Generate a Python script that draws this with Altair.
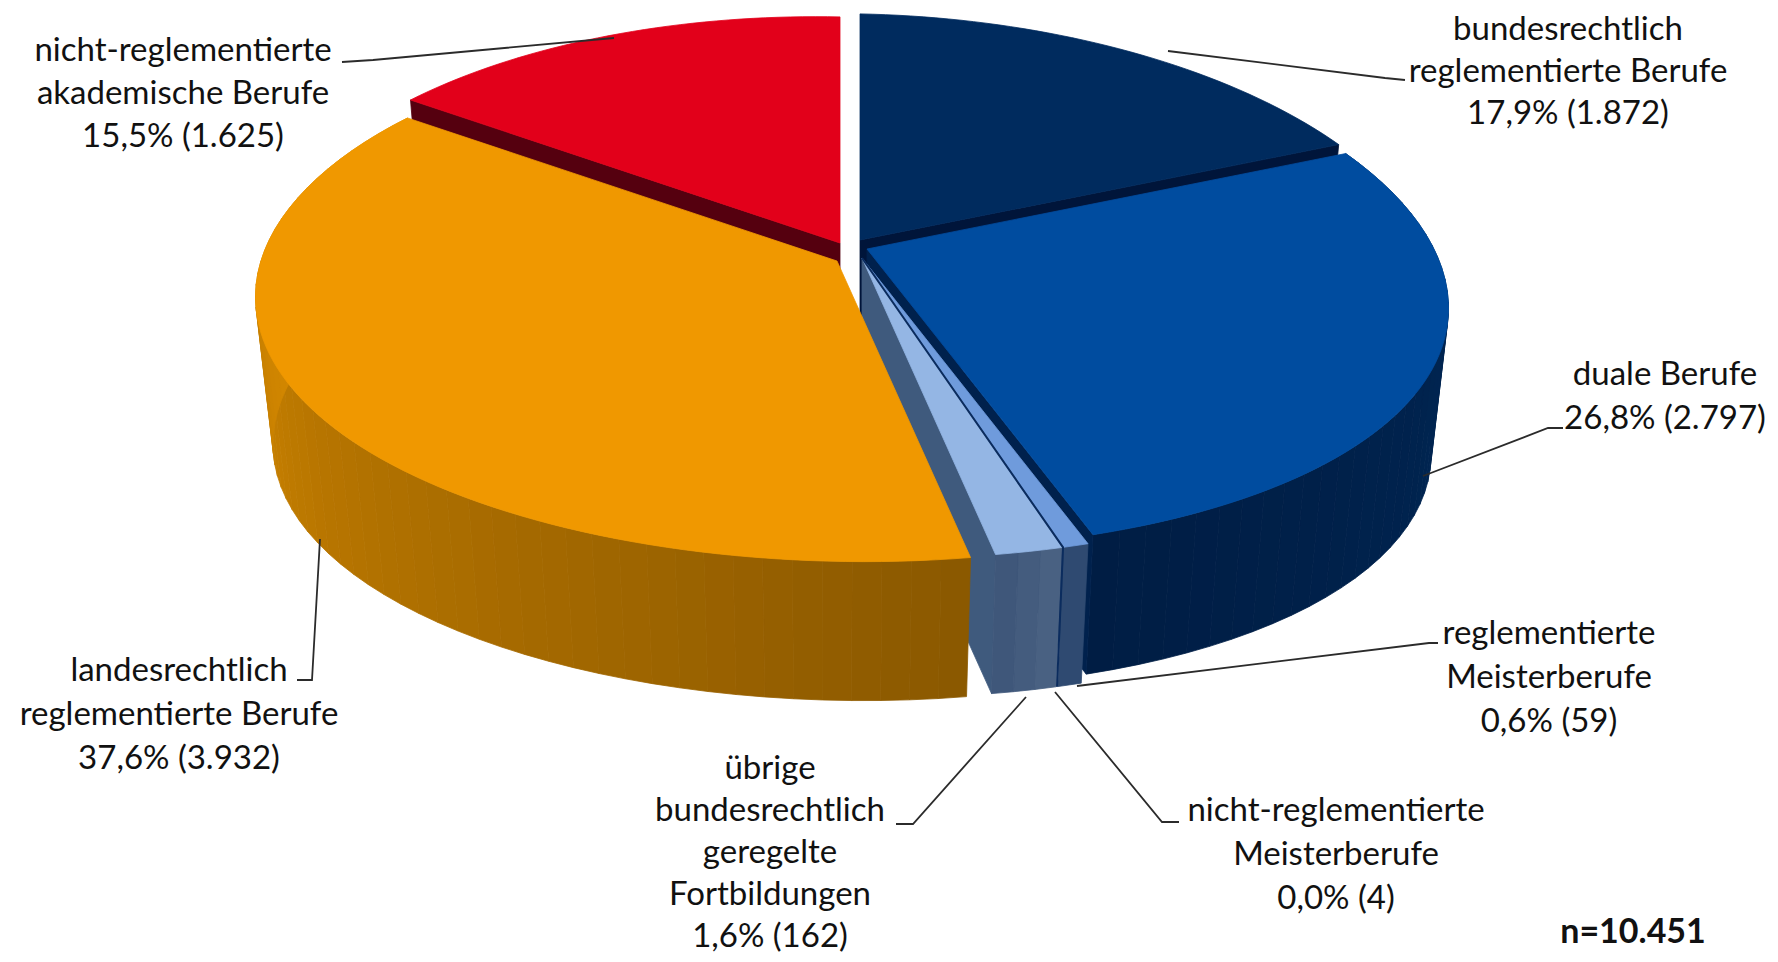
import math
import altair as alt
import pandas as pd

# ---- values ----
categories = ["bundesrechtlich reglementierte Berufe", "duale Berufe", "reglementierte Meisterberufe",
              "nicht-reglementierte Meisterberufe", "übrige bundesrechtlich geregelte Fortbildungen",
              "landesrechtlich reglementierte Berufe", "nicht-reglementierte akademische Berufe"]
shares = [17.9, 26.8, 0.6, 0.04, 1.6, 37.6, 15.5]
label_lines = [
    ["bundesrechtlich", "reglementierte Berufe", "17,9% (1.872)"],
    ["duale Berufe", "26,8% (2.797)"],
    ["reglementierte", "Meisterberufe", "0,6% (59)"],
    ["nicht-reglementierte", "Meisterberufe", "0,0% (4)"],
    ["übrige", "bundesrechtlich", "geregelte", "Fortbildungen", "1,6% (162)"],
    ["landesrechtlich", "reglementierte Berufe", "37,6% (3.932)"],
    ["nicht-reglementierte", "akademische Berufe", "15,5% (1.625)"],
]
note = "n=10.451"

# ---- layout and style, separate from the values ----
W, H = 1778, 962
AX, KX = 572.0, 0.18               # horizontal radius and perspective
BY, KY = 258.0, 0.141              # vertical radius and perspective
SKEW = 0.02                        # slight tilt of the pie
DEPTH, BASE = 148.0, 0.97          # wall height and lower-rim scale
apex = [(860, 240), (867, 249), (862, 258), (862, 258), (862, 258), (837, 261), (840, 243)]
top_col = ["#002b5e", "#004c9f", "#6f9bdc", "#0b2c5e", "#94b6e4", "#f09800", "#e2001a"]
wall_from = ["#00204a", "#002a5a", "#34507a", "#0b2c5e", "#4c6484", "#8a5800", "#7a0010"]
wall_to = ["#00204a", "#001d44", "#2a4468", "#0b2c5e", "#3c5478", "#e89500", "#7a0010"]
face_col = ["#00153a", "#00214d", "#1e3a63", "#0b2c5e", "#3f5a7d", "#8a5800", "#55000f"]
label_x = [1568, 1665, 1549, 1336, 770, 179, 183]
label_y = [30, 375, 634, 811, 769, 671, 51]
line_gap = [42, 44, 44, 44, 42, 44, 43]
leaders = [
    [(1168, 51), (1385, 78), (1405, 80)],
    [(1423, 476), (1548, 428), (1563, 428)],
    [(1077, 686), (1429, 643), (1438, 643)],
    [(1055, 692), (1162, 822), (1179, 822)],
    [(1026, 697), (913, 824), (896, 824)],
    [(320, 539), (312, 680), (297, 680)],
    [(614, 38), (373, 60), (342, 62)],
]

total = sum(shares)
edges = [0.0]
for s in shares:
    edges.append(edges[-1] + s / total * 360.0)


def top(i, t):
    r = math.radians(t)
    dx = AX * math.sin(r) / (1 + KX * math.cos(r))
    dy = -BY * math.cos(r) / (1 + KY * math.cos(r)) + SKEW * dx
    return apex[i][0] + dx, apex[i][1] + dy


def bottom(i, t):
    x, y = top(i, t)
    return apex[i][0] + BASE * (x - apex[i][0]), apex[i][1] + BASE * (y - apex[i][1]) + DEPTH


def mix(c1, c2, f):
    a = [int(c1[k:k + 2], 16) for k in (1, 3, 5)]
    b = [int(c2[k:k + 2], 16) for k in (1, 3, 5)]
    return "#%02x%02x%02x" % tuple(round(p + (q - p) * f) for p, q in zip(a, b))


rows = []
seq = [0, 0]


def poly(points, colour):
    seq[0] += 1
    for p in points:
        seq[1] += 1
        rows.append({"pid": seq[0], "seq": seq[1], "x": p[0], "y": p[1], "col": colour})


def arc_steps(a, b, step):
    n = max(1, int(math.ceil((b - a) / step)))
    return [a + (b - a) * k / n for k in range(n + 1)]


def top_face(i):
    a, b = edges[i], edges[i + 1]
    poly([apex[i]] + [top(i, t) for t in arc_steps(a, b, 1.5)], top_col[i])


def walls(i):
    ts = arc_steps(edges[i], edges[i + 1], 2.5)
    for k in range(len(ts) - 1):
        f = (k + 0.5) / (len(ts) - 1)
        poly([top(i, ts[k]), top(i, ts[k + 1]), bottom(i, ts[k + 1]), bottom(i, ts[k])],
             mix(wall_from[i], wall_to[i], f))


def cut_face(i, t):
    ax, ay = apex[i]
    poly([(ax, ay), top(i, t), bottom(i, t), (ax, ay + DEPTH)], face_col[i])


# Painter's order, back to front
cut_face(6, edges[6]); top_face(6)            # red
cut_face(0, edges[1]); top_face(0)            # navy
walls(1); cut_face(1, edges[2])               # duale Berufe: wall + face
cut_face(4, edges[5]); walls(4); top_face(4)  # übrige Fortbildungen
walls(2); top_face(2)                         # reglementierte Meisterberufe
walls(5); top_face(5)                         # orange
top_face(1)                                   # duale Berufe top

df = pd.DataFrame(rows)

x_scale = alt.Scale(domain=[8, W - 8], range=[0, W - 16], nice=False, zero=False)
y_scale = alt.Scale(domain=[8, H - 8], reverse=True, nice=False, zero=False)
X = alt.X("x:Q", scale=x_scale, axis=None)
Y = alt.Y("y:Q", scale=y_scale, axis=None)

faces = alt.Chart(df).mark_line(interpolate="linear-closed", strokeWidth=0.8).encode(
    x=X, y=Y, detail="pid:N", order="seq:Q",
    fill=alt.Fill("col:N", scale=None), stroke=alt.Stroke("col:N", scale=None))

# The 0,0 % slice is only a thin dark seam
i0 = 3
t0 = (edges[i0] + edges[i0 + 1]) / 2
seam_pts = [apex[i0], top(i0, t0), bottom(i0, t0)]
seam = alt.Chart(pd.DataFrame([{"x": p[0], "y": p[1], "seq": k} for k, p in enumerate(seam_pts)])).mark_line(
    color="#0b2c5e", strokeWidth=2).encode(x=X, y=Y, order="seq:Q")

lead_rows = []
for n, pts in enumerate(leaders):
    for k, p in enumerate(pts):
        lead_rows.append({"x": p[0], "y": p[1], "seq": k, "lid": n})
lead = alt.Chart(pd.DataFrame(lead_rows)).mark_line(color="#2b2b2b", strokeWidth=1.8).encode(
    x=X, y=Y, order="seq:Q", detail="lid:N")

text_rows = []
for n, lines in enumerate(label_lines):
    for k, s in enumerate(lines):
        text_rows.append({"x": label_x[n], "y": label_y[n] + k * line_gap[n], "s": s})
labels = alt.Chart(pd.DataFrame(text_rows)).mark_text(
    font="Lato", fontSize=33, color="#111111", align="center", baseline="middle").encode(x=X, y=Y, text="s:N")
n_label = alt.Chart(pd.DataFrame([{"x": 1633, "y": 933, "s": note}])).mark_text(
    font="Lato", fontSize=34, fontWeight="bold", color="#111111", align="center", baseline="middle").encode(
    x=X, y=Y, text="s:N")

chart = alt.layer(faces, seam, lead, labels, n_label).properties(
    width=W - 16, height=H - 16, padding=0, autosize=alt.AutoSizeParams(type="none")
).configure_view(stroke=None)

chart.save("out.html", embed_options={"renderer": "svg", "actions": False})
